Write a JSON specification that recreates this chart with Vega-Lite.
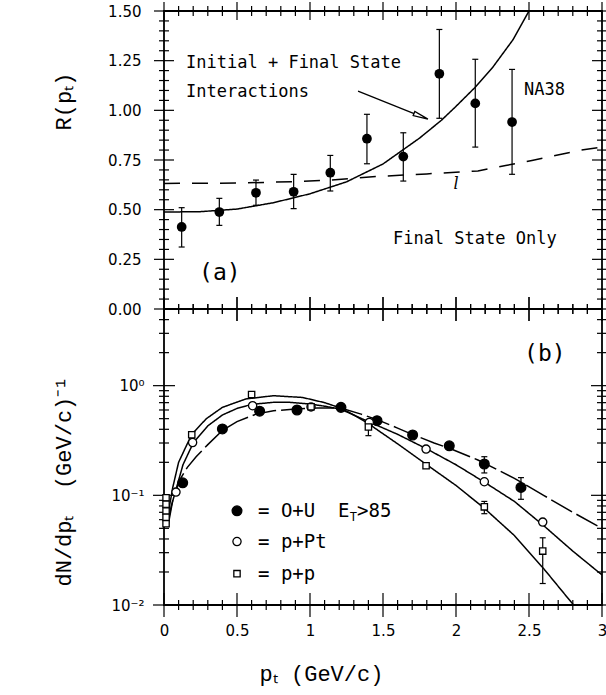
{
"$schema":"https://vega.github.io/schema/vega-lite/v6.json",
"padding":{"left":51,"top":1,"right":0,"bottom":8},
"background":"white",
"spacing":0,
"bounds":"flush",
"config":{
 "view":{"stroke":"black","strokeWidth":1.8},
 "axis":{"labelFont":"DejaVu Sans","labelFontSize":15,"labelColor":"black","ticks":false,"domain":false,"grid":false,"labelOverlap":false,"labelFlush":false,"titleFont":"Liberation Mono","titleFontSize":22,"titleFontWeight":"normal","titleColor":"black"},
 "tick":{"color":"black","thickness":1.2,"opacity":1},
 "text":{"color":"black"}
},
"datasets":{
 "xtM":[{"x":0,"ya":0,"yA":1.5,"yb":0.01,"yB":5},{"x":0.5,"ya":0,"yA":1.5,"yb":0.01,"yB":5},{"x":1,"ya":0,"yA":1.5,"yb":0.01,"yB":5},{"x":1.5,"ya":0,"yA":1.5,"yb":0.01,"yB":5},{"x":2,"ya":0,"yA":1.5,"yb":0.01,"yB":5},{"x":2.5,"ya":0,"yA":1.5,"yb":0.01,"yB":5},{"x":3,"ya":0,"yA":1.5,"yb":0.01,"yB":5}],
 "xtm":[{"x":0.1,"ya":0,"yA":1.5,"yb":0.01,"yB":5},{"x":0.2,"ya":0,"yA":1.5,"yb":0.01,"yB":5},{"x":0.3,"ya":0,"yA":1.5,"yb":0.01,"yB":5},{"x":0.4,"ya":0,"yA":1.5,"yb":0.01,"yB":5},{"x":0.6,"ya":0,"yA":1.5,"yb":0.01,"yB":5},{"x":0.7,"ya":0,"yA":1.5,"yb":0.01,"yB":5},{"x":0.8,"ya":0,"yA":1.5,"yb":0.01,"yB":5},{"x":0.9,"ya":0,"yA":1.5,"yb":0.01,"yB":5},{"x":1.1,"ya":0,"yA":1.5,"yb":0.01,"yB":5},{"x":1.2,"ya":0,"yA":1.5,"yb":0.01,"yB":5},{"x":1.3,"ya":0,"yA":1.5,"yb":0.01,"yB":5},{"x":1.4,"ya":0,"yA":1.5,"yb":0.01,"yB":5},{"x":1.6,"ya":0,"yA":1.5,"yb":0.01,"yB":5},{"x":1.7,"ya":0,"yA":1.5,"yb":0.01,"yB":5},{"x":1.8,"ya":0,"yA":1.5,"yb":0.01,"yB":5},{"x":1.9,"ya":0,"yA":1.5,"yb":0.01,"yB":5},{"x":2.1,"ya":0,"yA":1.5,"yb":0.01,"yB":5},{"x":2.2,"ya":0,"yA":1.5,"yb":0.01,"yB":5},{"x":2.3,"ya":0,"yA":1.5,"yb":0.01,"yB":5},{"x":2.4,"ya":0,"yA":1.5,"yb":0.01,"yB":5},{"x":2.6,"ya":0,"yA":1.5,"yb":0.01,"yB":5},{"x":2.7,"ya":0,"yA":1.5,"yb":0.01,"yB":5},{"x":2.8,"ya":0,"yA":1.5,"yb":0.01,"yB":5},{"x":2.9,"ya":0,"yA":1.5,"yb":0.01,"yB":5}],
 "ytM":[{"y":0,"xl":0,"xr":3},{"y":0.25,"xl":0,"xr":3},{"y":0.5,"xl":0,"xr":3},{"y":0.75,"xl":0,"xr":3},{"y":1,"xl":0,"xr":3},{"y":1.25,"xl":0,"xr":3},{"y":1.5,"xl":0,"xr":3}],
 "ytm":[{"y":0.05,"xl":0,"xr":3},{"y":0.1,"xl":0,"xr":3},{"y":0.15,"xl":0,"xr":3},{"y":0.2,"xl":0,"xr":3},{"y":0.3,"xl":0,"xr":3},{"y":0.35,"xl":0,"xr":3},{"y":0.4,"xl":0,"xr":3},{"y":0.45,"xl":0,"xr":3},{"y":0.55,"xl":0,"xr":3},{"y":0.6,"xl":0,"xr":3},{"y":0.65,"xl":0,"xr":3},{"y":0.7,"xl":0,"xr":3},{"y":0.8,"xl":0,"xr":3},{"y":0.85,"xl":0,"xr":3},{"y":0.9,"xl":0,"xr":3},{"y":0.95,"xl":0,"xr":3},{"y":1.05,"xl":0,"xr":3},{"y":1.1,"xl":0,"xr":3},{"y":1.15,"xl":0,"xr":3},{"y":1.2,"xl":0,"xr":3},{"y":1.3,"xl":0,"xr":3},{"y":1.35,"xl":0,"xr":3},{"y":1.4,"xl":0,"xr":3},{"y":1.45,"xl":0,"xr":3}],
 "ybM":[{"y":0.01,"xl":0,"xr":3},{"y":0.1,"xl":0,"xr":3},{"y":1,"xl":0,"xr":3}],
 "ybm":[{"y":0.02,"xl":0,"xr":3},{"y":0.03,"xl":0,"xr":3},{"y":0.04,"xl":0,"xr":3},{"y":0.05,"xl":0,"xr":3},{"y":0.06,"xl":0,"xr":3},{"y":0.07,"xl":0,"xr":3},{"y":0.08,"xl":0,"xr":3},{"y":0.09,"xl":0,"xr":3},{"y":0.2,"xl":0,"xr":3},{"y":0.3,"xl":0,"xr":3},{"y":0.4,"xl":0,"xr":3},{"y":0.5,"xl":0,"xr":3},{"y":0.6,"xl":0,"xr":3},{"y":0.7,"xl":0,"xr":3},{"y":0.8,"xl":0,"xr":3},{"y":0.9,"xl":0,"xr":3},{"y":2,"xl":0,"xr":3},{"y":3,"xl":0,"xr":3},{"y":4,"xl":0,"xr":3}],
 "topcurves":[
  {"s":"IF","x":0,"y":0.488},{"s":"IF","x":0.25,"y":0.49},{"s":"IF","x":0.5,"y":0.503},{"s":"IF","x":0.75,"y":0.535},{"s":"IF","x":1.0,"y":0.58},{"s":"IF","x":1.25,"y":0.64},{"s":"IF","x":1.5,"y":0.73},{"s":"IF","x":1.75,"y":0.86},{"s":"IF","x":1.9,"y":0.95},{"s":"IF","x":2.0,"y":1.02},{"s":"IF","x":2.13,"y":1.115},{"s":"IF","x":2.25,"y":1.215},{"s":"IF","x":2.39,"y":1.355},{"s":"IF","x":2.5,"y":1.5},
  {"s":"F","x":0,"y":0.632},{"s":"F","x":0.5,"y":0.634},{"s":"F","x":0.9,"y":0.641},{"s":"F","x":1.12,"y":0.648},{"s":"F","x":1.45,"y":0.667},{"s":"F","x":1.8,"y":0.68},{"s":"F","x":2.15,"y":0.695},{"s":"F","x":2.34,"y":0.722},{"s":"F","x":2.52,"y":0.748},{"s":"F","x":2.68,"y":0.773},{"s":"F","x":2.85,"y":0.799},{"s":"F","x":3.0,"y":0.815}
 ],
 "toppts":[{"x":0.121,"y":0.413,"lo":0.312,"hi":0.51},{"x":0.379,"y":0.488,"lo":0.421,"hi":0.557},{"x":0.63,"y":0.585,"lo":0.522,"hi":0.649},{"x":0.888,"y":0.59,"lo":0.505,"hi":0.678},{"x":1.139,"y":0.686,"lo":0.594,"hi":0.773},{"x":1.39,"y":0.857,"lo":0.731,"hi":0.98},{"x":1.639,"y":0.767,"lo":0.644,"hi":0.887},{"x":1.886,"y":1.184,"lo":0.96,"hi":1.407},{"x":2.132,"y":1.035,"lo":0.815,"hi":1.257},{"x":2.384,"y":0.941,"lo":0.678,"hi":1.206}],
 "arrowline":[{"x":1.329,"y":1.097,"o":0},{"x":1.76,"y":0.97,"o":1}],
 "arrowhead":[{"x":1.76,"y":0.97}],
 "toptext":[{"t":"Initial + Final State","x":0.151,"y":1.238},{"t":"Interactions","x":0.151,"y":1.092},{"t":"NA38","x":2.466,"y":1.102},{"t":"Final State Only","x":1.568,"y":0.352}],
 "alabel":[{"t":"(a)","x":0.24,"y":0.181}],
 "lmark":[{"t":"l","x":2.0,"y":0.628}],
 "bcurves":[
  {"s":"OU","x":0.03,"y":0.055},{"s":"OU","x":0.06,"y":0.09},{"s":"OU","x":0.105,"y":0.136},{"s":"OU","x":0.16,"y":0.18},{"s":"OU","x":0.22,"y":0.225},{"s":"OU","x":0.3,"y":0.29},{"s":"OU","x":0.4,"y":0.39},{"s":"OU","x":0.5,"y":0.47},{"s":"OU","x":0.63,"y":0.55},{"s":"OU","x":0.75,"y":0.59},{"s":"OU","x":0.9,"y":0.612},{"s":"OU","x":1.05,"y":0.625},{"s":"OU","x":1.21,"y":0.625},{"s":"OU","x":1.35,"y":0.55},{"s":"OU","x":1.46,"y":0.49},{"s":"OU","x":1.6,"y":0.41},{"s":"OU","x":1.7,"y":0.36},{"s":"OU","x":1.85,"y":0.3},{"s":"OU","x":1.95,"y":0.27},{"s":"OU","x":2.15,"y":0.21},{"s":"OU","x":2.4,"y":0.143},{"s":"OU","x":2.6,"y":0.1},{"s":"OU","x":2.8,"y":0.07},{"s":"OU","x":3.0,"y":0.05},
  {"s":"PPt","x":0.03,"y":0.06},{"s":"PPt","x":0.05,"y":0.08},{"s":"PPt","x":0.08,"y":0.11},{"s":"PPt","x":0.13,"y":0.19},{"s":"PPt","x":0.2,"y":0.3},{"s":"PPt","x":0.3,"y":0.43},{"s":"PPt","x":0.4,"y":0.54},{"s":"PPt","x":0.5,"y":0.62},{"s":"PPt","x":0.6,"y":0.675},{"s":"PPt","x":0.75,"y":0.705},{"s":"PPt","x":0.86,"y":0.705},{"s":"PPt","x":1.0,"y":0.68},{"s":"PPt","x":1.1,"y":0.65},{"s":"PPt","x":1.21,"y":0.61},{"s":"PPt","x":1.3,"y":0.54},{"s":"PPt","x":1.4,"y":0.47},{"s":"PPt","x":1.6,"y":0.36},{"s":"PPt","x":1.8,"y":0.265},{"s":"PPt","x":2.0,"y":0.19},{"s":"PPt","x":2.19,"y":0.133},{"s":"PPt","x":2.4,"y":0.088},{"s":"PPt","x":2.6,"y":0.053},{"s":"PPt","x":2.8,"y":0.031},{"s":"PPt","x":3.0,"y":0.0188},
  {"s":"PP","x":0.03,"y":0.07},{"s":"PP","x":0.06,"y":0.118},{"s":"PP","x":0.1,"y":0.2},{"s":"PP","x":0.19,"y":0.36},{"s":"PP","x":0.29,"y":0.5},{"s":"PP","x":0.4,"y":0.634},{"s":"PP","x":0.56,"y":0.756},{"s":"PP","x":0.75,"y":0.81},{"s":"PP","x":0.95,"y":0.78},{"s":"PP","x":1.1,"y":0.7},{"s":"PP","x":1.21,"y":0.625},{"s":"PP","x":1.3,"y":0.54},{"s":"PP","x":1.4,"y":0.45},{"s":"PP","x":1.6,"y":0.295},{"s":"PP","x":1.8,"y":0.19},{"s":"PP","x":2.0,"y":0.123},{"s":"PP","x":2.19,"y":0.077},{"s":"PP","x":2.4,"y":0.043},{"s":"PP","x":2.6,"y":0.0215},{"s":"PP","x":2.8,"y":0.0102},{"s":"PP","x":2.84,"y":0.0088}
 ],
 "bpts":[
  {"g":"OU","x":0.128,"y":0.13},{"g":"OU","x":0.4,"y":0.403},{"g":"OU","x":0.655,"y":0.585},{"g":"OU","x":0.911,"y":0.6},{"g":"OU","x":1.212,"y":0.634},{"g":"OU","x":1.459,"y":0.479},{"g":"OU","x":1.703,"y":0.355},{"g":"OU","x":1.954,"y":0.283},{"g":"OU","x":2.194,"y":0.193},{"g":"OU","x":2.445,"y":0.118},
  {"g":"PPt","x":0.082,"y":0.107},{"g":"PPt","x":0.196,"y":0.303},{"g":"PPt","x":0.607,"y":0.656},{"g":"PPt","x":1.007,"y":0.64},{"g":"PPt","x":1.406,"y":0.462},{"g":"PPt","x":1.795,"y":0.264},{"g":"PPt","x":2.194,"y":0.133},{"g":"PPt","x":2.594,"y":0.057},
  {"g":"PP","x":0.014,"y":0.095},{"g":"PP","x":0.014,"y":0.083},{"g":"PP","x":0.014,"y":0.072},{"g":"PP","x":0.014,"y":0.063},{"g":"PP","x":0.014,"y":0.055},{"g":"PP","x":0.19,"y":0.357},{"g":"PP","x":0.6,"y":0.83},{"g":"PP","x":1.007,"y":0.643},{"g":"PP","x":1.4,"y":0.42},{"g":"PP","x":1.795,"y":0.186},{"g":"PP","x":2.194,"y":0.0785},{"g":"PP","x":2.594,"y":0.031}
 ],
 "berr":[{"x":2.194,"lo":0.16,"hi":0.225},{"x":2.445,"lo":0.092,"hi":0.145},{"x":1.4,"lo":0.35,"hi":0.46},{"x":2.194,"lo":0.068,"hi":0.088},{"x":2.594,"lo":0.0157,"hi":0.041}],
 "legsym":[{"g":"OU","x":0.5,"y":0.0722},{"g":"PPt","x":0.5,"y":0.0379},{"g":"PP","x":0.5,"y":0.0193}],
 "legtext":[{"t":"= O+U\u00a0\u00a0E","x":0.644,"y":0.0722},{"t":">85","x":1.322,"y":0.0722},{"t":"= p+Pt","x":0.644,"y":0.0379},{"t":"= p+p","x":0.644,"y":0.0193}],
 "legsub":[{"t":"T","x":1.272,"y":0.0636}],
 "blabel":[{"t":"(b)","x":2.466,"y":1.96}]
},
"vconcat":[
 {
  "width":438,"height":298,
  "resolve":{"axis":{"x":"independent","y":"independent"}},
  "layer":[
   {"data":{"name":"topcurves"},
    "mark":{"type":"line","color":"black","strokeWidth":1.5,"clip":true},
    "encoding":{
     "x":{"field":"x","type":"quantitative","scale":{"domain":[0,3],"nice":false,"zero":false},"axis":null},
     "y":{"field":"y","type":"quantitative","scale":{"domain":[0,1.5],"nice":false,"zero":false},
      "axis":{"orient":"left","values":[0,0.25,0.5,0.75,1,1.25,1.5],"format":".2f","labelPadding":23,"title":"R(pₜ)","titleX":-101,"titleY":90,"titleAlign":"center","titleBaseline":"middle","titleAngle":-90}},
     "strokeDash":{"field":"s","type":"nominal","scale":{"domain":["IF","F","OU","PPt","PP"],"range":[[1,0],[16,12],[24,5],[1,0],[1,0]]},"legend":null}
    }},
   {"data":{"name":"xtM"},"mark":{"type":"tick","orient":"vertical","size":24,"color":"black","thickness":1.2},
    "encoding":{"x":{"field":"x","type":"quantitative","scale":{"domain":[0,3],"nice":false,"zero":false},"axis":null},"y":{"field":"ya","type":"quantitative","scale":{"domain":[0,1.5],"nice":false,"zero":false},"axis":null}}},
   {"data":{"name":"xtM"},"mark":{"type":"tick","orient":"vertical","size":18,"color":"black","thickness":1.2},
    "encoding":{"x":{"field":"x","type":"quantitative","scale":{"domain":[0,3],"nice":false,"zero":false},"axis":null},"y":{"field":"yA","type":"quantitative","scale":{"domain":[0,1.5],"nice":false,"zero":false},"axis":null}}},
   {"data":{"name":"xtm"},"mark":{"type":"tick","orient":"vertical","size":10,"color":"black","thickness":1.2},
    "encoding":{"x":{"field":"x","type":"quantitative","scale":{"domain":[0,3],"nice":false,"zero":false},"axis":null},"y":{"field":"ya","type":"quantitative","scale":{"domain":[0,1.5],"nice":false,"zero":false},"axis":null}}},
   {"data":{"name":"xtm"},"mark":{"type":"tick","orient":"vertical","size":10,"color":"black","thickness":1.2},
    "encoding":{"x":{"field":"x","type":"quantitative","scale":{"domain":[0,3],"nice":false,"zero":false},"axis":null},"y":{"field":"yA","type":"quantitative","scale":{"domain":[0,1.5],"nice":false,"zero":false},"axis":null}}},
   {"data":{"name":"ytM"},"mark":{"type":"tick","orient":"horizontal","size":20,"color":"black","thickness":1.2},
    "encoding":{"y":{"field":"y","type":"quantitative","scale":{"domain":[0,1.5],"nice":false,"zero":false},"axis":null},"x":{"field":"xl","type":"quantitative","scale":{"domain":[0,3],"nice":false,"zero":false},"axis":null}}},
   {"data":{"name":"ytM"},"mark":{"type":"tick","orient":"horizontal","size":20,"color":"black","thickness":1.2},
    "encoding":{"y":{"field":"y","type":"quantitative","scale":{"domain":[0,1.5],"nice":false,"zero":false},"axis":null},"x":{"field":"xr","type":"quantitative","scale":{"domain":[0,3],"nice":false,"zero":false},"axis":null}}},
   {"data":{"name":"ytm"},"mark":{"type":"tick","orient":"horizontal","size":10,"color":"black","thickness":1.2},
    "encoding":{"y":{"field":"y","type":"quantitative","scale":{"domain":[0,1.5],"nice":false,"zero":false},"axis":null},"x":{"field":"xl","type":"quantitative","scale":{"domain":[0,3],"nice":false,"zero":false},"axis":null}}},
   {"data":{"name":"ytm"},"mark":{"type":"tick","orient":"horizontal","size":10,"color":"black","thickness":1.2},
    "encoding":{"y":{"field":"y","type":"quantitative","scale":{"domain":[0,1.5],"nice":false,"zero":false},"axis":null},"x":{"field":"xr","type":"quantitative","scale":{"domain":[0,3],"nice":false,"zero":false},"axis":null}}},
   {"data":{"name":"toppts"},
    "mark":{"type":"rule","color":"black","strokeWidth":1.2},
    "encoding":{"x":{"field":"x","type":"quantitative","scale":{"domain":[0,3],"nice":false,"zero":false},"axis":null},"y":{"field":"lo","type":"quantitative","scale":{"domain":[0,1.5],"nice":false,"zero":false},"axis":null},"y2":{"field":"hi"}}},
   {"data":{"name":"toppts"},
    "mark":{"type":"tick","orient":"horizontal","size":6},
    "encoding":{"x":{"field":"x","type":"quantitative","scale":{"domain":[0,3],"nice":false,"zero":false},"axis":null},"y":{"field":"hi","type":"quantitative","scale":{"domain":[0,1.5],"nice":false,"zero":false},"axis":null}}},
   {"data":{"name":"toppts"},
    "mark":{"type":"tick","orient":"horizontal","size":6},
    "encoding":{"x":{"field":"x","type":"quantitative","scale":{"domain":[0,3],"nice":false,"zero":false},"axis":null},"y":{"field":"lo","type":"quantitative","scale":{"domain":[0,1.5],"nice":false,"zero":false},"axis":null}}},
   {"data":{"name":"toppts"},
    "mark":{"type":"point","shape":"circle","filled":true,"color":"black","size":95,"opacity":1},
    "encoding":{"x":{"field":"x","type":"quantitative","scale":{"domain":[0,3],"nice":false,"zero":false},"axis":null},"y":{"field":"y","type":"quantitative","scale":{"domain":[0,1.5],"nice":false,"zero":false},"axis":null}}},
   {"data":{"name":"arrowline"},
    "mark":{"type":"line","color":"black","strokeWidth":1.3},
    "encoding":{"x":{"field":"x","type":"quantitative","scale":{"domain":[0,3],"nice":false,"zero":false},"axis":null},"y":{"field":"y","type":"quantitative","scale":{"domain":[0,1.5],"nice":false,"zero":false},"axis":null},"order":{"field":"o","type":"quantitative"}}},
   {"data":{"name":"arrowhead"},
    "mark":{"type":"point","shape":"M 1 0 L -1 -0.3 L -1 0.3 Z","angle":21.8,"size":225,"filled":true,"fill":"white","stroke":"black","strokeWidth":1.3,"opacity":1},
    "encoding":{"x":{"field":"x","type":"quantitative","scale":{"domain":[0,3],"nice":false,"zero":false},"axis":null},"y":{"field":"y","type":"quantitative","scale":{"domain":[0,1.5],"nice":false,"zero":false},"axis":null}}},
   {"data":{"name":"toptext"},
    "mark":{"type":"text","align":"left","baseline":"middle","font":"DejaVu Sans Mono","fontSize":17,"color":"black"},
    "encoding":{"x":{"field":"x","type":"quantitative","scale":{"domain":[0,3],"nice":false,"zero":false},"axis":null},"y":{"field":"y","type":"quantitative","scale":{"domain":[0,1.5],"nice":false,"zero":false},"axis":null},"text":{"field":"t"}}},
   {"data":{"name":"alabel"},
    "mark":{"type":"text","align":"left","baseline":"middle","font":"DejaVu Sans Mono","fontSize":23,"color":"black"},
    "encoding":{"x":{"field":"x","type":"quantitative","scale":{"domain":[0,3],"nice":false,"zero":false},"axis":null},"y":{"field":"y","type":"quantitative","scale":{"domain":[0,1.5],"nice":false,"zero":false},"axis":null},"text":{"field":"t"}}},
   {"data":{"name":"lmark"},
    "mark":{"type":"text","align":"center","baseline":"middle","font":"DejaVu Serif","fontStyle":"italic","fontSize":16,"color":"black"},
    "encoding":{"x":{"field":"x","type":"quantitative","scale":{"domain":[0,3],"nice":false,"zero":false},"axis":null},"y":{"field":"y","type":"quantitative","scale":{"domain":[0,1.5],"nice":false,"zero":false},"axis":null},"text":{"field":"t"}}}
  ]
 },
 {
  "width":438,"height":296,
  "resolve":{"axis":{"x":"independent","y":"independent"}},
  "layer":[
   {"data":{"name":"bcurves"},
    "mark":{"type":"line","color":"black","strokeWidth":1.5,"clip":true},
    "encoding":{
     "x":{"field":"x","type":"quantitative","scale":{"domain":[0,3],"nice":false,"zero":false},
      "axis":{"orient":"bottom","values":[0,0.5,1,1.5,2,2.5,3],"labelExpr":"format(datum.value,'~g')","labelPadding":18,"title":"pₜ (GeV/c)","titleX":157,"titleY":68,"titleAlign":"center","titleBaseline":"middle","titleAngle":0}},
     "y":{"field":"y","type":"quantitative","scale":{"type":"log","domain":[0.01,5],"nice":false},
      "axis":{"orient":"left","values":[0.01,0.1,1],"labelExpr":"datum.value==1 ? '10⁰' : datum.value==0.1 ? '10⁻¹' : '10⁻²'","labelPadding":20,"title":"dN/dpₜ\u00a0\u00a0(GeV/c)⁻¹","titleX":-101,"titleY":172,"titleAlign":"center","titleBaseline":"middle","titleAngle":-90}},
     "strokeDash":{"field":"s","type":"nominal","scale":{"domain":["IF","F","OU","PPt","PP"],"range":[[1,0],[16,12],[24,5],[1,0],[1,0]]},"legend":null}
    }},
   {"data":{"name":"xtM"},"mark":{"type":"tick","orient":"vertical","size":24,"color":"black","thickness":1.2},
    "encoding":{"x":{"field":"x","type":"quantitative","scale":{"domain":[0,3],"nice":false,"zero":false},"axis":null},"y":{"field":"yb","type":"quantitative","scale":{"type":"log","domain":[0.01,5],"nice":false},"axis":null}}},
   {"data":{"name":"xtM"},"mark":{"type":"tick","orient":"vertical","size":24,"color":"black","thickness":1.2},
    "encoding":{"x":{"field":"x","type":"quantitative","scale":{"domain":[0,3],"nice":false,"zero":false},"axis":null},"y":{"field":"yB","type":"quantitative","scale":{"type":"log","domain":[0.01,5],"nice":false},"axis":null}}},
   {"data":{"name":"xtm"},"mark":{"type":"tick","orient":"vertical","size":10,"color":"black","thickness":1.2},
    "encoding":{"x":{"field":"x","type":"quantitative","scale":{"domain":[0,3],"nice":false,"zero":false},"axis":null},"y":{"field":"yb","type":"quantitative","scale":{"type":"log","domain":[0.01,5],"nice":false},"axis":null}}},
   {"data":{"name":"xtm"},"mark":{"type":"tick","orient":"vertical","size":10,"color":"black","thickness":1.2},
    "encoding":{"x":{"field":"x","type":"quantitative","scale":{"domain":[0,3],"nice":false,"zero":false},"axis":null},"y":{"field":"yB","type":"quantitative","scale":{"type":"log","domain":[0.01,5],"nice":false},"axis":null}}},
   {"data":{"name":"ybM"},"mark":{"type":"tick","orient":"horizontal","size":22,"color":"black","thickness":1.2},
    "encoding":{"y":{"field":"y","type":"quantitative","scale":{"type":"log","domain":[0.01,5],"nice":false},"axis":null},"x":{"field":"xl","type":"quantitative","scale":{"domain":[0,3],"nice":false,"zero":false},"axis":null}}},
   {"data":{"name":"ybM"},"mark":{"type":"tick","orient":"horizontal","size":22,"color":"black","thickness":1.2},
    "encoding":{"y":{"field":"y","type":"quantitative","scale":{"type":"log","domain":[0.01,5],"nice":false},"axis":null},"x":{"field":"xr","type":"quantitative","scale":{"domain":[0,3],"nice":false,"zero":false},"axis":null}}},
   {"data":{"name":"ybm"},"mark":{"type":"tick","orient":"horizontal","size":10,"color":"black","thickness":1.2},
    "encoding":{"y":{"field":"y","type":"quantitative","scale":{"type":"log","domain":[0.01,5],"nice":false},"axis":null},"x":{"field":"xl","type":"quantitative","scale":{"domain":[0,3],"nice":false,"zero":false},"axis":null}}},
   {"data":{"name":"ybm"},"mark":{"type":"tick","orient":"horizontal","size":10,"color":"black","thickness":1.2},
    "encoding":{"y":{"field":"y","type":"quantitative","scale":{"type":"log","domain":[0.01,5],"nice":false},"axis":null},"x":{"field":"xr","type":"quantitative","scale":{"domain":[0,3],"nice":false,"zero":false},"axis":null}}},
   {"data":{"name":"berr"},
    "mark":{"type":"rule","color":"black","strokeWidth":1.2},
    "encoding":{"x":{"field":"x","type":"quantitative","scale":{"domain":[0,3],"nice":false,"zero":false},"axis":null},"y":{"field":"lo","type":"quantitative","scale":{"type":"log","domain":[0.01,5],"nice":false},"axis":null},"y2":{"field":"hi"}}},
   {"data":{"name":"berr"},
    "mark":{"type":"tick","orient":"horizontal","size":6},
    "encoding":{"x":{"field":"x","type":"quantitative","scale":{"domain":[0,3],"nice":false,"zero":false},"axis":null},"y":{"field":"hi","type":"quantitative","scale":{"type":"log","domain":[0.01,5],"nice":false},"axis":null}}},
   {"data":{"name":"berr"},
    "mark":{"type":"tick","orient":"horizontal","size":6},
    "encoding":{"x":{"field":"x","type":"quantitative","scale":{"domain":[0,3],"nice":false,"zero":false},"axis":null},"y":{"field":"lo","type":"quantitative","scale":{"type":"log","domain":[0.01,5],"nice":false},"axis":null}}},
   {"data":{"name":"bpts"},
    "mark":{"type":"point","filled":true,"stroke":"black","strokeWidth":1.3,"opacity":1},
    "encoding":{
     "x":{"field":"x","type":"quantitative","scale":{"domain":[0,3],"nice":false,"zero":false},"axis":null},
     "y":{"field":"y","type":"quantitative","scale":{"type":"log","domain":[0.01,5],"nice":false},"axis":null},
     "shape":{"field":"g","type":"nominal","scale":{"domain":["OU","PPt","PP"],"range":["circle","circle","square"]},"legend":null},
     "fill":{"field":"g","type":"nominal","scale":{"domain":["OU","PPt","PP"],"range":["black","white","white"]},"legend":null},
     "size":{"field":"g","type":"nominal","scale":{"domain":["OU","PPt","PP"],"range":[95,40,75]},"legend":null}
    }},
   {"data":{"name":"legsym"},
    "mark":{"type":"point","filled":true,"stroke":"black","strokeWidth":1.3,"opacity":1},
    "encoding":{
     "x":{"field":"x","type":"quantitative","scale":{"domain":[0,3],"nice":false,"zero":false},"axis":null},
     "y":{"field":"y","type":"quantitative","scale":{"type":"log","domain":[0.01,5],"nice":false},"axis":null},
     "shape":{"field":"g","type":"nominal","scale":{"domain":["OU","PPt","PP"],"range":["circle","circle","square"]},"legend":null},
     "fill":{"field":"g","type":"nominal","scale":{"domain":["OU","PPt","PP"],"range":["black","white","white"]},"legend":null},
     "size":{"field":"g","type":"nominal","scale":{"domain":["OU","PPt","PP"],"range":[95,40,75]},"legend":null}
    }},
   {"data":{"name":"legtext"},
    "mark":{"type":"text","align":"left","baseline":"middle","font":"DejaVu Sans Mono","fontSize":19,"color":"black"},
    "encoding":{"x":{"field":"x","type":"quantitative","scale":{"domain":[0,3],"nice":false,"zero":false},"axis":null},"y":{"field":"y","type":"quantitative","scale":{"type":"log","domain":[0.01,5],"nice":false},"axis":null},"text":{"field":"t"}}},
   {"data":{"name":"legsub"},
    "mark":{"type":"text","align":"left","baseline":"middle","font":"DejaVu Sans Mono","fontSize":12,"color":"black"},
    "encoding":{"x":{"field":"x","type":"quantitative","scale":{"domain":[0,3],"nice":false,"zero":false},"axis":null},"y":{"field":"y","type":"quantitative","scale":{"type":"log","domain":[0.01,5],"nice":false},"axis":null},"text":{"field":"t"}}},
   {"data":{"name":"blabel"},
    "mark":{"type":"text","align":"left","baseline":"middle","font":"DejaVu Sans Mono","fontSize":23,"color":"black"},
    "encoding":{"x":{"field":"x","type":"quantitative","scale":{"domain":[0,3],"nice":false,"zero":false},"axis":null},"y":{"field":"y","type":"quantitative","scale":{"type":"log","domain":[0.01,5],"nice":false},"axis":null},"text":{"field":"t"}}}
  ]
 }
]
}
